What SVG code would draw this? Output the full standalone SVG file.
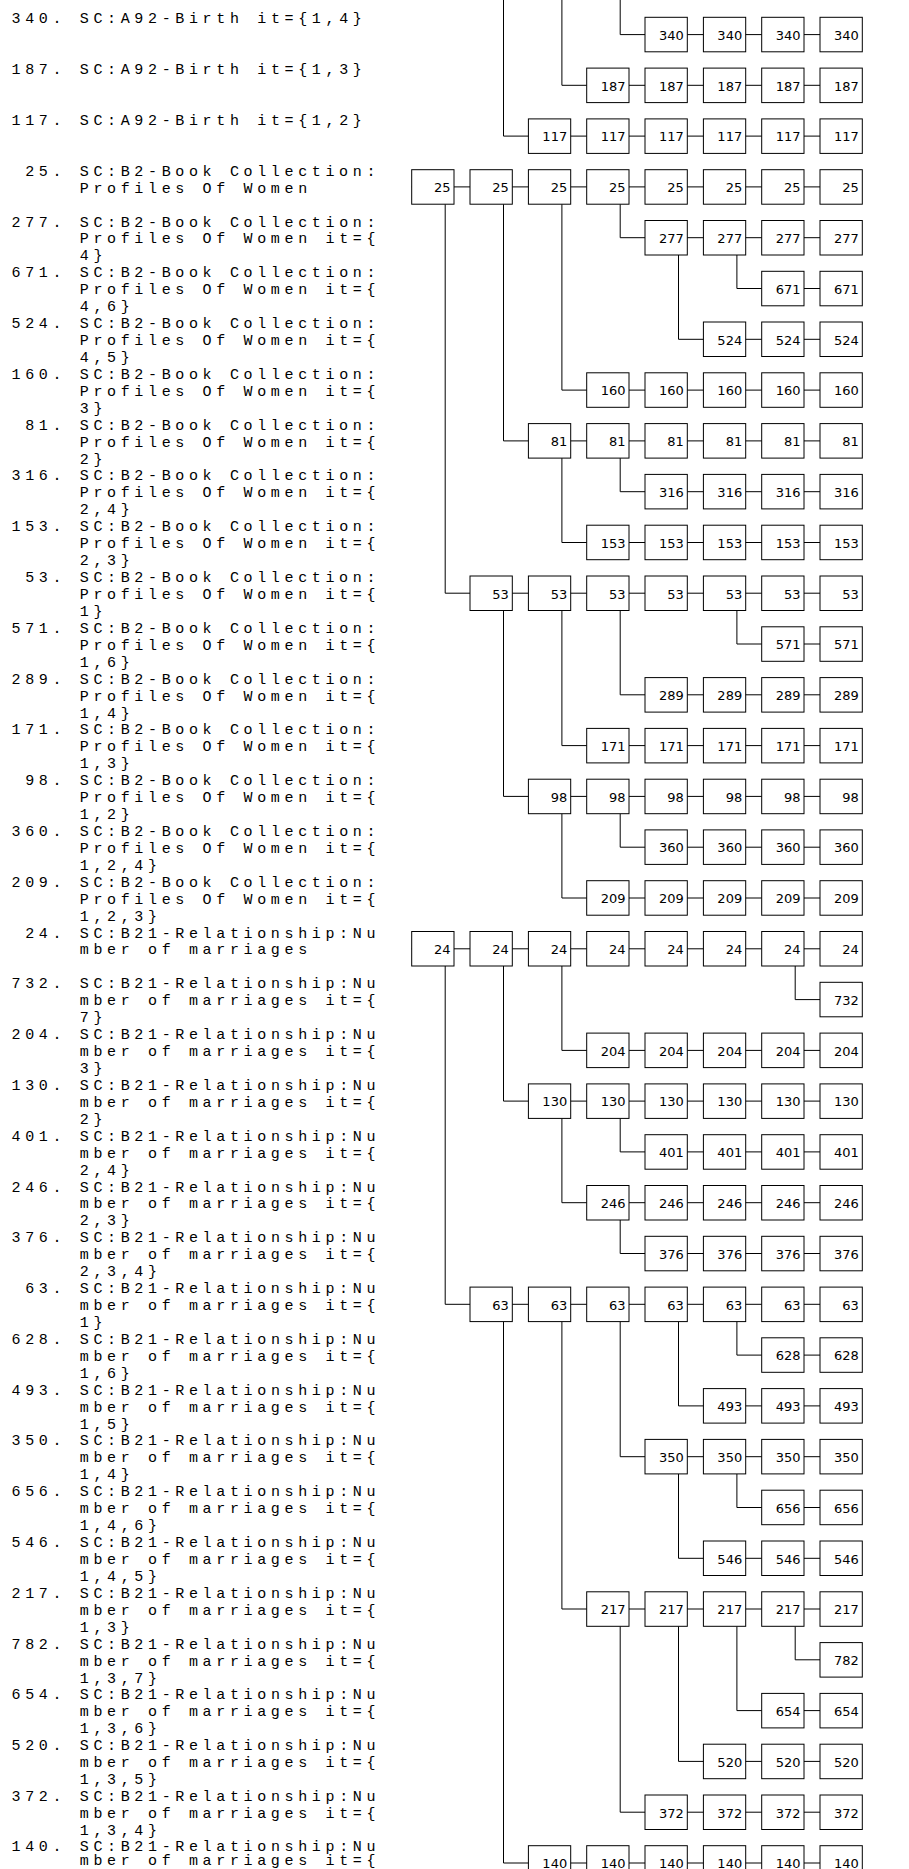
<svg xmlns="http://www.w3.org/2000/svg" xmlns:xlink="http://www.w3.org/1999/xlink" width="909" height="1869" viewBox="0 0 909 1869">
<style>
.t{font-family:'Liberation Mono','DejaVu Sans Mono',monospace;font-size:15px;letter-spacing:4.65px;fill:#000}
.b{fill:#fff;stroke:#000;stroke-width:1}
.n text{font-family:'DejaVu Sans',sans-serif;font-size:13px;text-anchor:end;fill:#000}
.c path{fill:none;stroke:#000;stroke-width:1}
</style>
<defs><rect id="bx" class="b" width="42.3" height="34.5"/></defs>
<rect width="909" height="1869" fill="#fff"/>
<g id="labels" class="t">
<g id="l340"><text x="11.5" y="23.3">340. SC:A92-Birth it={1,4}</text></g>
<g id="l187"><text x="11.5" y="74.1">187. SC:A92-Birth it={1,3}</text></g>
<g id="l117"><text x="11.5" y="124.9">117. SC:A92-Birth it={1,2}</text></g>
<g id="l25"><text x="25.15" y="175.7">25. SC:B2-Book Collection:</text><text x="79.75" y="192.6">Profiles Of Women</text></g>
<g id="l277"><text x="11.5" y="226.5">277. SC:B2-Book Collection:</text><text x="79.75" y="243.4">Profiles Of Women it={</text><text x="79.75" y="260.4">4}</text></g>
<g id="l671"><text x="11.5" y="277.3">671. SC:B2-Book Collection:</text><text x="79.75" y="294.2">Profiles Of Women it={</text><text x="79.75" y="311.2">4,6}</text></g>
<g id="l524"><text x="11.5" y="328.0">524. SC:B2-Book Collection:</text><text x="79.75" y="344.9">Profiles Of Women it={</text><text x="79.75" y="361.9">4,5}</text></g>
<g id="l160"><text x="11.5" y="378.8">160. SC:B2-Book Collection:</text><text x="79.75" y="395.7">Profiles Of Women it={</text><text x="79.75" y="412.7">3}</text></g>
<g id="l81"><text x="25.15" y="429.6">81. SC:B2-Book Collection:</text><text x="79.75" y="446.5">Profiles Of Women it={</text><text x="79.75" y="463.5">2}</text></g>
<g id="l316"><text x="11.5" y="480.4">316. SC:B2-Book Collection:</text><text x="79.75" y="497.3">Profiles Of Women it={</text><text x="79.75" y="514.3">2,4}</text></g>
<g id="l153"><text x="11.5" y="531.2">153. SC:B2-Book Collection:</text><text x="79.75" y="548.1">Profiles Of Women it={</text><text x="79.75" y="565.1">2,3}</text></g>
<g id="l53"><text x="25.15" y="582.0">53. SC:B2-Book Collection:</text><text x="79.75" y="598.9">Profiles Of Women it={</text><text x="79.75" y="615.9">1}</text></g>
<g id="l571"><text x="11.5" y="632.8">571. SC:B2-Book Collection:</text><text x="79.75" y="649.7">Profiles Of Women it={</text><text x="79.75" y="666.7">1,6}</text></g>
<g id="l289"><text x="11.5" y="683.6">289. SC:B2-Book Collection:</text><text x="79.75" y="700.5">Profiles Of Women it={</text><text x="79.75" y="717.5">1,4}</text></g>
<g id="l171"><text x="11.5" y="734.4">171. SC:B2-Book Collection:</text><text x="79.75" y="751.3">Profiles Of Women it={</text><text x="79.75" y="768.3">1,3}</text></g>
<g id="l98"><text x="25.15" y="785.2">98. SC:B2-Book Collection:</text><text x="79.75" y="802.1">Profiles Of Women it={</text><text x="79.75" y="819.1">1,2}</text></g>
<g id="l360"><text x="11.5" y="835.9">360. SC:B2-Book Collection:</text><text x="79.75" y="852.8">Profiles Of Women it={</text><text x="79.75" y="869.8">1,2,4}</text></g>
<g id="l209"><text x="11.5" y="886.7">209. SC:B2-Book Collection:</text><text x="79.75" y="903.6">Profiles Of Women it={</text><text x="79.75" y="920.6">1,2,3}</text></g>
<g id="l24"><text x="25.15" y="937.5">24. SC:B21-Relationship:Nu</text><text x="79.75" y="954.4">mber of marriages</text></g>
<g id="l732"><text x="11.5" y="988.3">732. SC:B21-Relationship:Nu</text><text x="79.75" y="1005.2">mber of marriages it={</text><text x="79.75" y="1022.2">7}</text></g>
<g id="l204"><text x="11.5" y="1039.1">204. SC:B21-Relationship:Nu</text><text x="79.75" y="1056.0">mber of marriages it={</text><text x="79.75" y="1073.0">3}</text></g>
<g id="l130"><text x="11.5" y="1089.9">130. SC:B21-Relationship:Nu</text><text x="79.75" y="1106.8">mber of marriages it={</text><text x="79.75" y="1123.8">2}</text></g>
<g id="l401"><text x="11.5" y="1140.7">401. SC:B21-Relationship:Nu</text><text x="79.75" y="1157.6">mber of marriages it={</text><text x="79.75" y="1174.6">2,4}</text></g>
<g id="l246"><text x="11.5" y="1191.5">246. SC:B21-Relationship:Nu</text><text x="79.75" y="1208.4">mber of marriages it={</text><text x="79.75" y="1225.4">2,3}</text></g>
<g id="l376"><text x="11.5" y="1242.3">376. SC:B21-Relationship:Nu</text><text x="79.75" y="1259.2">mber of marriages it={</text><text x="79.75" y="1276.2">2,3,4}</text></g>
<g id="l63"><text x="25.15" y="1293.1">63. SC:B21-Relationship:Nu</text><text x="79.75" y="1310.0">mber of marriages it={</text><text x="79.75" y="1327.0">1}</text></g>
<g id="l628"><text x="11.5" y="1343.8">628. SC:B21-Relationship:Nu</text><text x="79.75" y="1360.7">mber of marriages it={</text><text x="79.75" y="1377.7">1,6}</text></g>
<g id="l493"><text x="11.5" y="1394.6">493. SC:B21-Relationship:Nu</text><text x="79.75" y="1411.5">mber of marriages it={</text><text x="79.75" y="1428.5">1,5}</text></g>
<g id="l350"><text x="11.5" y="1445.4">350. SC:B21-Relationship:Nu</text><text x="79.75" y="1462.3">mber of marriages it={</text><text x="79.75" y="1479.3">1,4}</text></g>
<g id="l656"><text x="11.5" y="1496.2">656. SC:B21-Relationship:Nu</text><text x="79.75" y="1513.1">mber of marriages it={</text><text x="79.75" y="1530.1">1,4,6}</text></g>
<g id="l546"><text x="11.5" y="1547.0">546. SC:B21-Relationship:Nu</text><text x="79.75" y="1563.9">mber of marriages it={</text><text x="79.75" y="1580.9">1,4,5}</text></g>
<g id="l217"><text x="11.5" y="1597.8">217. SC:B21-Relationship:Nu</text><text x="79.75" y="1614.7">mber of marriages it={</text><text x="79.75" y="1631.7">1,3}</text></g>
<g id="l782"><text x="11.5" y="1648.6">782. SC:B21-Relationship:Nu</text><text x="79.75" y="1665.5">mber of marriages it={</text><text x="79.75" y="1682.5">1,3,7}</text></g>
<g id="l654"><text x="11.5" y="1699.4">654. SC:B21-Relationship:Nu</text><text x="79.75" y="1716.3">mber of marriages it={</text><text x="79.75" y="1733.3">1,3,6}</text></g>
<g id="l520"><text x="11.5" y="1750.2">520. SC:B21-Relationship:Nu</text><text x="79.75" y="1767.1">mber of marriages it={</text><text x="79.75" y="1784.1">1,3,5}</text></g>
<g id="l372"><text x="11.5" y="1801.0">372. SC:B21-Relationship:Nu</text><text x="79.75" y="1817.9">mber of marriages it={</text><text x="79.75" y="1834.9">1,3,4}</text></g>
<g id="l140"><text x="11.5" y="1850.7">140. SC:B21-Relationship:Nu</text><text x="79.75" y="1864.8">mber of marriages it={</text></g>
</g>
<g id="connectors" class="c">
<path d="M620.2,-1V34.6H820"/>
<path d="M561.9,-1V85.3H820"/>
<path d="M503.5,-1V136.1H820"/>
<path d="M411.7,186.9H820"/>
<path d="M620.2,204.2V237.7H820"/>
<path d="M736.9,255V288.5H820"/>
<path d="M678.5,255V339.3H820"/>
<path d="M561.9,204.2V390.1H820"/>
<path d="M503.5,204.2V440.9H820"/>
<path d="M620.2,458.1V491.7H820"/>
<path d="M561.9,458.1V542.5H820"/>
<path d="M445.2,204.2V593.2H820"/>
<path d="M736.9,610.5V644H820"/>
<path d="M620.2,610.5V694.8H820"/>
<path d="M561.9,610.5V745.6H820"/>
<path d="M503.5,610.5V796.4H820"/>
<path d="M620.2,813.7V847.2H820"/>
<path d="M561.9,813.7V898H820"/>
<path d="M411.7,948.8H820"/>
<path d="M795.2,966V999.6H820"/>
<path d="M561.9,966V1050.4H820"/>
<path d="M503.5,966V1101.1H820"/>
<path d="M620.2,1118.4V1151.9H820"/>
<path d="M561.9,1118.4V1202.7H820"/>
<path d="M620.2,1220V1253.5H820"/>
<path d="M445.2,966V1304.3H820"/>
<path d="M736.9,1321.6V1355.1H820"/>
<path d="M678.5,1321.6V1405.9H820"/>
<path d="M620.2,1321.6V1456.7H820"/>
<path d="M736.9,1473.9V1507.5H820"/>
<path d="M678.5,1473.9V1558.3H820"/>
<path d="M561.9,1321.6V1609H820"/>
<path d="M795.2,1626.3V1659.8H820"/>
<path d="M736.9,1626.3V1710.6H820"/>
<path d="M678.5,1626.3V1761.4H820"/>
<path d="M620.2,1626.3V1812.2H820"/>
<path d="M503.5,1321.6V1863H820"/>
</g>
<g id="nodes" class="n">
<g id="r340" transform="translate(0,17.3)">
<g id="n340-4" transform="translate(645,0)"><use xlink:href="#bx"/><text x="38.8" y="22.5">340</text></g>
<g id="n340-5" transform="translate(703.4,0)"><use xlink:href="#bx"/><text x="38.8" y="22.5">340</text></g>
<g id="n340-6" transform="translate(761.7,0)"><use xlink:href="#bx"/><text x="38.8" y="22.5">340</text></g>
<g id="n340-7" transform="translate(820,0)"><use xlink:href="#bx"/><text x="38.8" y="22.5">340</text></g>
</g>
<g id="r187" transform="translate(0,68.1)">
<g id="n187-3" transform="translate(586.7,0)"><use xlink:href="#bx"/><text x="38.8" y="22.5">187</text></g>
<g id="n187-4" transform="translate(645,0)"><use xlink:href="#bx"/><text x="38.8" y="22.5">187</text></g>
<g id="n187-5" transform="translate(703.4,0)"><use xlink:href="#bx"/><text x="38.8" y="22.5">187</text></g>
<g id="n187-6" transform="translate(761.7,0)"><use xlink:href="#bx"/><text x="38.8" y="22.5">187</text></g>
<g id="n187-7" transform="translate(820,0)"><use xlink:href="#bx"/><text x="38.8" y="22.5">187</text></g>
</g>
<g id="r117" transform="translate(0,118.9)">
<g id="n117-2" transform="translate(528.4,0)"><use xlink:href="#bx"/><text x="38.8" y="22.5">117</text></g>
<g id="n117-3" transform="translate(586.7,0)"><use xlink:href="#bx"/><text x="38.8" y="22.5">117</text></g>
<g id="n117-4" transform="translate(645,0)"><use xlink:href="#bx"/><text x="38.8" y="22.5">117</text></g>
<g id="n117-5" transform="translate(703.4,0)"><use xlink:href="#bx"/><text x="38.8" y="22.5">117</text></g>
<g id="n117-6" transform="translate(761.7,0)"><use xlink:href="#bx"/><text x="38.8" y="22.5">117</text></g>
<g id="n117-7" transform="translate(820,0)"><use xlink:href="#bx"/><text x="38.8" y="22.5">117</text></g>
</g>
<g id="r25" transform="translate(0,169.7)">
<g id="n25-0" transform="translate(411.7,0)"><use xlink:href="#bx"/><text x="38.8" y="22.5">25</text></g>
<g id="n25-1" transform="translate(470,0)"><use xlink:href="#bx"/><text x="38.8" y="22.5">25</text></g>
<g id="n25-2" transform="translate(528.4,0)"><use xlink:href="#bx"/><text x="38.8" y="22.5">25</text></g>
<g id="n25-3" transform="translate(586.7,0)"><use xlink:href="#bx"/><text x="38.8" y="22.5">25</text></g>
<g id="n25-4" transform="translate(645,0)"><use xlink:href="#bx"/><text x="38.8" y="22.5">25</text></g>
<g id="n25-5" transform="translate(703.4,0)"><use xlink:href="#bx"/><text x="38.8" y="22.5">25</text></g>
<g id="n25-6" transform="translate(761.7,0)"><use xlink:href="#bx"/><text x="38.8" y="22.5">25</text></g>
<g id="n25-7" transform="translate(820,0)"><use xlink:href="#bx"/><text x="38.8" y="22.5">25</text></g>
</g>
<g id="r277" transform="translate(0,220.5)">
<g id="n277-4" transform="translate(645,0)"><use xlink:href="#bx"/><text x="38.8" y="22.5">277</text></g>
<g id="n277-5" transform="translate(703.4,0)"><use xlink:href="#bx"/><text x="38.8" y="22.5">277</text></g>
<g id="n277-6" transform="translate(761.7,0)"><use xlink:href="#bx"/><text x="38.8" y="22.5">277</text></g>
<g id="n277-7" transform="translate(820,0)"><use xlink:href="#bx"/><text x="38.8" y="22.5">277</text></g>
</g>
<g id="r671" transform="translate(0,271.3)">
<g id="n671-6" transform="translate(761.7,0)"><use xlink:href="#bx"/><text x="38.8" y="22.5">671</text></g>
<g id="n671-7" transform="translate(820,0)"><use xlink:href="#bx"/><text x="38.8" y="22.5">671</text></g>
</g>
<g id="r524" transform="translate(0,322)">
<g id="n524-5" transform="translate(703.4,0)"><use xlink:href="#bx"/><text x="38.8" y="22.5">524</text></g>
<g id="n524-6" transform="translate(761.7,0)"><use xlink:href="#bx"/><text x="38.8" y="22.5">524</text></g>
<g id="n524-7" transform="translate(820,0)"><use xlink:href="#bx"/><text x="38.8" y="22.5">524</text></g>
</g>
<g id="r160" transform="translate(0,372.8)">
<g id="n160-3" transform="translate(586.7,0)"><use xlink:href="#bx"/><text x="38.8" y="22.5">160</text></g>
<g id="n160-4" transform="translate(645,0)"><use xlink:href="#bx"/><text x="38.8" y="22.5">160</text></g>
<g id="n160-5" transform="translate(703.4,0)"><use xlink:href="#bx"/><text x="38.8" y="22.5">160</text></g>
<g id="n160-6" transform="translate(761.7,0)"><use xlink:href="#bx"/><text x="38.8" y="22.5">160</text></g>
<g id="n160-7" transform="translate(820,0)"><use xlink:href="#bx"/><text x="38.8" y="22.5">160</text></g>
</g>
<g id="r81" transform="translate(0,423.6)">
<g id="n81-2" transform="translate(528.4,0)"><use xlink:href="#bx"/><text x="38.8" y="22.5">81</text></g>
<g id="n81-3" transform="translate(586.7,0)"><use xlink:href="#bx"/><text x="38.8" y="22.5">81</text></g>
<g id="n81-4" transform="translate(645,0)"><use xlink:href="#bx"/><text x="38.8" y="22.5">81</text></g>
<g id="n81-5" transform="translate(703.4,0)"><use xlink:href="#bx"/><text x="38.8" y="22.5">81</text></g>
<g id="n81-6" transform="translate(761.7,0)"><use xlink:href="#bx"/><text x="38.8" y="22.5">81</text></g>
<g id="n81-7" transform="translate(820,0)"><use xlink:href="#bx"/><text x="38.8" y="22.5">81</text></g>
</g>
<g id="r316" transform="translate(0,474.4)">
<g id="n316-4" transform="translate(645,0)"><use xlink:href="#bx"/><text x="38.8" y="22.5">316</text></g>
<g id="n316-5" transform="translate(703.4,0)"><use xlink:href="#bx"/><text x="38.8" y="22.5">316</text></g>
<g id="n316-6" transform="translate(761.7,0)"><use xlink:href="#bx"/><text x="38.8" y="22.5">316</text></g>
<g id="n316-7" transform="translate(820,0)"><use xlink:href="#bx"/><text x="38.8" y="22.5">316</text></g>
</g>
<g id="r153" transform="translate(0,525.2)">
<g id="n153-3" transform="translate(586.7,0)"><use xlink:href="#bx"/><text x="38.8" y="22.5">153</text></g>
<g id="n153-4" transform="translate(645,0)"><use xlink:href="#bx"/><text x="38.8" y="22.5">153</text></g>
<g id="n153-5" transform="translate(703.4,0)"><use xlink:href="#bx"/><text x="38.8" y="22.5">153</text></g>
<g id="n153-6" transform="translate(761.7,0)"><use xlink:href="#bx"/><text x="38.8" y="22.5">153</text></g>
<g id="n153-7" transform="translate(820,0)"><use xlink:href="#bx"/><text x="38.8" y="22.5">153</text></g>
</g>
<g id="r53" transform="translate(0,576)">
<g id="n53-1" transform="translate(470,0)"><use xlink:href="#bx"/><text x="38.8" y="22.5">53</text></g>
<g id="n53-2" transform="translate(528.4,0)"><use xlink:href="#bx"/><text x="38.8" y="22.5">53</text></g>
<g id="n53-3" transform="translate(586.7,0)"><use xlink:href="#bx"/><text x="38.8" y="22.5">53</text></g>
<g id="n53-4" transform="translate(645,0)"><use xlink:href="#bx"/><text x="38.8" y="22.5">53</text></g>
<g id="n53-5" transform="translate(703.4,0)"><use xlink:href="#bx"/><text x="38.8" y="22.5">53</text></g>
<g id="n53-6" transform="translate(761.7,0)"><use xlink:href="#bx"/><text x="38.8" y="22.5">53</text></g>
<g id="n53-7" transform="translate(820,0)"><use xlink:href="#bx"/><text x="38.8" y="22.5">53</text></g>
</g>
<g id="r571" transform="translate(0,626.8)">
<g id="n571-6" transform="translate(761.7,0)"><use xlink:href="#bx"/><text x="38.8" y="22.5">571</text></g>
<g id="n571-7" transform="translate(820,0)"><use xlink:href="#bx"/><text x="38.8" y="22.5">571</text></g>
</g>
<g id="r289" transform="translate(0,677.6)">
<g id="n289-4" transform="translate(645,0)"><use xlink:href="#bx"/><text x="38.8" y="22.5">289</text></g>
<g id="n289-5" transform="translate(703.4,0)"><use xlink:href="#bx"/><text x="38.8" y="22.5">289</text></g>
<g id="n289-6" transform="translate(761.7,0)"><use xlink:href="#bx"/><text x="38.8" y="22.5">289</text></g>
<g id="n289-7" transform="translate(820,0)"><use xlink:href="#bx"/><text x="38.8" y="22.5">289</text></g>
</g>
<g id="r171" transform="translate(0,728.4)">
<g id="n171-3" transform="translate(586.7,0)"><use xlink:href="#bx"/><text x="38.8" y="22.5">171</text></g>
<g id="n171-4" transform="translate(645,0)"><use xlink:href="#bx"/><text x="38.8" y="22.5">171</text></g>
<g id="n171-5" transform="translate(703.4,0)"><use xlink:href="#bx"/><text x="38.8" y="22.5">171</text></g>
<g id="n171-6" transform="translate(761.7,0)"><use xlink:href="#bx"/><text x="38.8" y="22.5">171</text></g>
<g id="n171-7" transform="translate(820,0)"><use xlink:href="#bx"/><text x="38.8" y="22.5">171</text></g>
</g>
<g id="r98" transform="translate(0,779.2)">
<g id="n98-2" transform="translate(528.4,0)"><use xlink:href="#bx"/><text x="38.8" y="22.5">98</text></g>
<g id="n98-3" transform="translate(586.7,0)"><use xlink:href="#bx"/><text x="38.8" y="22.5">98</text></g>
<g id="n98-4" transform="translate(645,0)"><use xlink:href="#bx"/><text x="38.8" y="22.5">98</text></g>
<g id="n98-5" transform="translate(703.4,0)"><use xlink:href="#bx"/><text x="38.8" y="22.5">98</text></g>
<g id="n98-6" transform="translate(761.7,0)"><use xlink:href="#bx"/><text x="38.8" y="22.5">98</text></g>
<g id="n98-7" transform="translate(820,0)"><use xlink:href="#bx"/><text x="38.8" y="22.5">98</text></g>
</g>
<g id="r360" transform="translate(0,829.9)">
<g id="n360-4" transform="translate(645,0)"><use xlink:href="#bx"/><text x="38.8" y="22.5">360</text></g>
<g id="n360-5" transform="translate(703.4,0)"><use xlink:href="#bx"/><text x="38.8" y="22.5">360</text></g>
<g id="n360-6" transform="translate(761.7,0)"><use xlink:href="#bx"/><text x="38.8" y="22.5">360</text></g>
<g id="n360-7" transform="translate(820,0)"><use xlink:href="#bx"/><text x="38.8" y="22.5">360</text></g>
</g>
<g id="r209" transform="translate(0,880.7)">
<g id="n209-3" transform="translate(586.7,0)"><use xlink:href="#bx"/><text x="38.8" y="22.5">209</text></g>
<g id="n209-4" transform="translate(645,0)"><use xlink:href="#bx"/><text x="38.8" y="22.5">209</text></g>
<g id="n209-5" transform="translate(703.4,0)"><use xlink:href="#bx"/><text x="38.8" y="22.5">209</text></g>
<g id="n209-6" transform="translate(761.7,0)"><use xlink:href="#bx"/><text x="38.8" y="22.5">209</text></g>
<g id="n209-7" transform="translate(820,0)"><use xlink:href="#bx"/><text x="38.8" y="22.5">209</text></g>
</g>
<g id="r24" transform="translate(0,931.5)">
<g id="n24-0" transform="translate(411.7,0)"><use xlink:href="#bx"/><text x="38.8" y="22.5">24</text></g>
<g id="n24-1" transform="translate(470,0)"><use xlink:href="#bx"/><text x="38.8" y="22.5">24</text></g>
<g id="n24-2" transform="translate(528.4,0)"><use xlink:href="#bx"/><text x="38.8" y="22.5">24</text></g>
<g id="n24-3" transform="translate(586.7,0)"><use xlink:href="#bx"/><text x="38.8" y="22.5">24</text></g>
<g id="n24-4" transform="translate(645,0)"><use xlink:href="#bx"/><text x="38.8" y="22.5">24</text></g>
<g id="n24-5" transform="translate(703.4,0)"><use xlink:href="#bx"/><text x="38.8" y="22.5">24</text></g>
<g id="n24-6" transform="translate(761.7,0)"><use xlink:href="#bx"/><text x="38.8" y="22.5">24</text></g>
<g id="n24-7" transform="translate(820,0)"><use xlink:href="#bx"/><text x="38.8" y="22.5">24</text></g>
</g>
<g id="r732" transform="translate(0,982.3)">
<g id="n732-7" transform="translate(820,0)"><use xlink:href="#bx"/><text x="38.8" y="22.5">732</text></g>
</g>
<g id="r204" transform="translate(0,1033.1)">
<g id="n204-3" transform="translate(586.7,0)"><use xlink:href="#bx"/><text x="38.8" y="22.5">204</text></g>
<g id="n204-4" transform="translate(645,0)"><use xlink:href="#bx"/><text x="38.8" y="22.5">204</text></g>
<g id="n204-5" transform="translate(703.4,0)"><use xlink:href="#bx"/><text x="38.8" y="22.5">204</text></g>
<g id="n204-6" transform="translate(761.7,0)"><use xlink:href="#bx"/><text x="38.8" y="22.5">204</text></g>
<g id="n204-7" transform="translate(820,0)"><use xlink:href="#bx"/><text x="38.8" y="22.5">204</text></g>
</g>
<g id="r130" transform="translate(0,1083.9)">
<g id="n130-2" transform="translate(528.4,0)"><use xlink:href="#bx"/><text x="38.8" y="22.5">130</text></g>
<g id="n130-3" transform="translate(586.7,0)"><use xlink:href="#bx"/><text x="38.8" y="22.5">130</text></g>
<g id="n130-4" transform="translate(645,0)"><use xlink:href="#bx"/><text x="38.8" y="22.5">130</text></g>
<g id="n130-5" transform="translate(703.4,0)"><use xlink:href="#bx"/><text x="38.8" y="22.5">130</text></g>
<g id="n130-6" transform="translate(761.7,0)"><use xlink:href="#bx"/><text x="38.8" y="22.5">130</text></g>
<g id="n130-7" transform="translate(820,0)"><use xlink:href="#bx"/><text x="38.8" y="22.5">130</text></g>
</g>
<g id="r401" transform="translate(0,1134.7)">
<g id="n401-4" transform="translate(645,0)"><use xlink:href="#bx"/><text x="38.8" y="22.5">401</text></g>
<g id="n401-5" transform="translate(703.4,0)"><use xlink:href="#bx"/><text x="38.8" y="22.5">401</text></g>
<g id="n401-6" transform="translate(761.7,0)"><use xlink:href="#bx"/><text x="38.8" y="22.5">401</text></g>
<g id="n401-7" transform="translate(820,0)"><use xlink:href="#bx"/><text x="38.8" y="22.5">401</text></g>
</g>
<g id="r246" transform="translate(0,1185.5)">
<g id="n246-3" transform="translate(586.7,0)"><use xlink:href="#bx"/><text x="38.8" y="22.5">246</text></g>
<g id="n246-4" transform="translate(645,0)"><use xlink:href="#bx"/><text x="38.8" y="22.5">246</text></g>
<g id="n246-5" transform="translate(703.4,0)"><use xlink:href="#bx"/><text x="38.8" y="22.5">246</text></g>
<g id="n246-6" transform="translate(761.7,0)"><use xlink:href="#bx"/><text x="38.8" y="22.5">246</text></g>
<g id="n246-7" transform="translate(820,0)"><use xlink:href="#bx"/><text x="38.8" y="22.5">246</text></g>
</g>
<g id="r376" transform="translate(0,1236.3)">
<g id="n376-4" transform="translate(645,0)"><use xlink:href="#bx"/><text x="38.8" y="22.5">376</text></g>
<g id="n376-5" transform="translate(703.4,0)"><use xlink:href="#bx"/><text x="38.8" y="22.5">376</text></g>
<g id="n376-6" transform="translate(761.7,0)"><use xlink:href="#bx"/><text x="38.8" y="22.5">376</text></g>
<g id="n376-7" transform="translate(820,0)"><use xlink:href="#bx"/><text x="38.8" y="22.5">376</text></g>
</g>
<g id="r63" transform="translate(0,1287.1)">
<g id="n63-1" transform="translate(470,0)"><use xlink:href="#bx"/><text x="38.8" y="22.5">63</text></g>
<g id="n63-2" transform="translate(528.4,0)"><use xlink:href="#bx"/><text x="38.8" y="22.5">63</text></g>
<g id="n63-3" transform="translate(586.7,0)"><use xlink:href="#bx"/><text x="38.8" y="22.5">63</text></g>
<g id="n63-4" transform="translate(645,0)"><use xlink:href="#bx"/><text x="38.8" y="22.5">63</text></g>
<g id="n63-5" transform="translate(703.4,0)"><use xlink:href="#bx"/><text x="38.8" y="22.5">63</text></g>
<g id="n63-6" transform="translate(761.7,0)"><use xlink:href="#bx"/><text x="38.8" y="22.5">63</text></g>
<g id="n63-7" transform="translate(820,0)"><use xlink:href="#bx"/><text x="38.8" y="22.5">63</text></g>
</g>
<g id="r628" transform="translate(0,1337.8)">
<g id="n628-6" transform="translate(761.7,0)"><use xlink:href="#bx"/><text x="38.8" y="22.5">628</text></g>
<g id="n628-7" transform="translate(820,0)"><use xlink:href="#bx"/><text x="38.8" y="22.5">628</text></g>
</g>
<g id="r493" transform="translate(0,1388.6)">
<g id="n493-5" transform="translate(703.4,0)"><use xlink:href="#bx"/><text x="38.8" y="22.5">493</text></g>
<g id="n493-6" transform="translate(761.7,0)"><use xlink:href="#bx"/><text x="38.8" y="22.5">493</text></g>
<g id="n493-7" transform="translate(820,0)"><use xlink:href="#bx"/><text x="38.8" y="22.5">493</text></g>
</g>
<g id="r350" transform="translate(0,1439.4)">
<g id="n350-4" transform="translate(645,0)"><use xlink:href="#bx"/><text x="38.8" y="22.5">350</text></g>
<g id="n350-5" transform="translate(703.4,0)"><use xlink:href="#bx"/><text x="38.8" y="22.5">350</text></g>
<g id="n350-6" transform="translate(761.7,0)"><use xlink:href="#bx"/><text x="38.8" y="22.5">350</text></g>
<g id="n350-7" transform="translate(820,0)"><use xlink:href="#bx"/><text x="38.8" y="22.5">350</text></g>
</g>
<g id="r656" transform="translate(0,1490.2)">
<g id="n656-6" transform="translate(761.7,0)"><use xlink:href="#bx"/><text x="38.8" y="22.5">656</text></g>
<g id="n656-7" transform="translate(820,0)"><use xlink:href="#bx"/><text x="38.8" y="22.5">656</text></g>
</g>
<g id="r546" transform="translate(0,1541)">
<g id="n546-5" transform="translate(703.4,0)"><use xlink:href="#bx"/><text x="38.8" y="22.5">546</text></g>
<g id="n546-6" transform="translate(761.7,0)"><use xlink:href="#bx"/><text x="38.8" y="22.5">546</text></g>
<g id="n546-7" transform="translate(820,0)"><use xlink:href="#bx"/><text x="38.8" y="22.5">546</text></g>
</g>
<g id="r217" transform="translate(0,1591.8)">
<g id="n217-3" transform="translate(586.7,0)"><use xlink:href="#bx"/><text x="38.8" y="22.5">217</text></g>
<g id="n217-4" transform="translate(645,0)"><use xlink:href="#bx"/><text x="38.8" y="22.5">217</text></g>
<g id="n217-5" transform="translate(703.4,0)"><use xlink:href="#bx"/><text x="38.8" y="22.5">217</text></g>
<g id="n217-6" transform="translate(761.7,0)"><use xlink:href="#bx"/><text x="38.8" y="22.5">217</text></g>
<g id="n217-7" transform="translate(820,0)"><use xlink:href="#bx"/><text x="38.8" y="22.5">217</text></g>
</g>
<g id="r782" transform="translate(0,1642.6)">
<g id="n782-7" transform="translate(820,0)"><use xlink:href="#bx"/><text x="38.8" y="22.5">782</text></g>
</g>
<g id="r654" transform="translate(0,1693.4)">
<g id="n654-6" transform="translate(761.7,0)"><use xlink:href="#bx"/><text x="38.8" y="22.5">654</text></g>
<g id="n654-7" transform="translate(820,0)"><use xlink:href="#bx"/><text x="38.8" y="22.5">654</text></g>
</g>
<g id="r520" transform="translate(0,1744.2)">
<g id="n520-5" transform="translate(703.4,0)"><use xlink:href="#bx"/><text x="38.8" y="22.5">520</text></g>
<g id="n520-6" transform="translate(761.7,0)"><use xlink:href="#bx"/><text x="38.8" y="22.5">520</text></g>
<g id="n520-7" transform="translate(820,0)"><use xlink:href="#bx"/><text x="38.8" y="22.5">520</text></g>
</g>
<g id="r372" transform="translate(0,1795)">
<g id="n372-4" transform="translate(645,0)"><use xlink:href="#bx"/><text x="38.8" y="22.5">372</text></g>
<g id="n372-5" transform="translate(703.4,0)"><use xlink:href="#bx"/><text x="38.8" y="22.5">372</text></g>
<g id="n372-6" transform="translate(761.7,0)"><use xlink:href="#bx"/><text x="38.8" y="22.5">372</text></g>
<g id="n372-7" transform="translate(820,0)"><use xlink:href="#bx"/><text x="38.8" y="22.5">372</text></g>
</g>
<g id="r140" transform="translate(0,1845.7)">
<g id="n140-2" transform="translate(528.4,0)"><use xlink:href="#bx"/><text x="38.8" y="22.5">140</text></g>
<g id="n140-3" transform="translate(586.7,0)"><use xlink:href="#bx"/><text x="38.8" y="22.5">140</text></g>
<g id="n140-4" transform="translate(645,0)"><use xlink:href="#bx"/><text x="38.8" y="22.5">140</text></g>
<g id="n140-5" transform="translate(703.4,0)"><use xlink:href="#bx"/><text x="38.8" y="22.5">140</text></g>
<g id="n140-6" transform="translate(761.7,0)"><use xlink:href="#bx"/><text x="38.8" y="22.5">140</text></g>
<g id="n140-7" transform="translate(820,0)"><use xlink:href="#bx"/><text x="38.8" y="22.5">140</text></g>
</g>
</g>
</svg>
